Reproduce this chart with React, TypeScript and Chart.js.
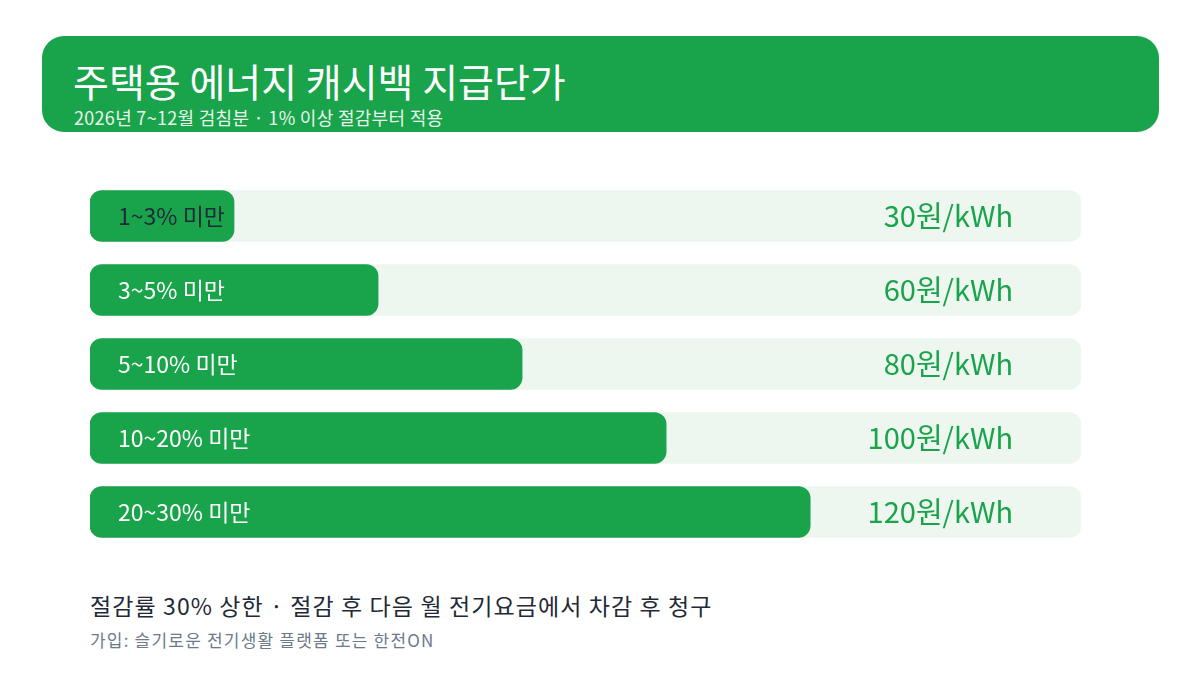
import React, { useEffect, useRef } from "react"
import { Chart, registerables } from "chart.js"

Chart.register(...registerables)

// tiers of saving rate, unit payment (원/kWh) and the step length of each bar
const tiers = ["1~3% 미만", "3~5% 미만", "5~10% 미만", "10~20% 미만", "20~30% 미만"]
const unitPrices = [30, 60, 80, 100, 120]
const barSteps = [1, 2, 3, 4, 5]
const stepMax = 6.88

const GREEN = "#19a34b"
const TRACK = "#edf7ef"
const FONT = "'Noto Sans CJK KR', 'Noto Sans', sans-serif"

const labelPlugin = {
    id: "tierLabels",
    afterDatasetsDraw(chart: any) {
        const ctx = chart.ctx
        const meta = chart.getDatasetMeta(1)
        const area = chart.chartArea
        ctx.save()
        ctx.textBaseline = "middle"
        meta.data.forEach((bar: any, i: number) => {
            // tier name inside the bar
            ctx.font = `23px ${FONT}`
            ctx.textAlign = "left"
            ctx.fillStyle = i === 0 ? "#1f2a37" : "#ffffff"
            ctx.fillText(tiers[i], area.left + 28, bar.y)

            // price at the right end of the track
            ctx.font = `29px ${FONT}`
            ctx.textAlign = "right"
            ctx.fillStyle = GREEN
            ctx.fillText(`${unitPrices[i]}원/kWh`, area.right - 68, bar.y)
        })
        ctx.restore()
    },
}

const CashbackBars: React.FC = () => {
    const chartRef = useRef<HTMLCanvasElement>(null)
    const chartInstance = useRef<Chart | null>(null)

    useEffect(() => {
        if (!chartRef.current) return
        if (chartInstance.current) chartInstance.current.destroy()
        const ctx = chartRef.current.getContext("2d")
        if (!ctx) return

        chartInstance.current = new Chart(ctx, {
            type: "bar",
            data: {
                labels: tiers,
                datasets: [
                    {
                        data: tiers.map(() => stepMax),
                        backgroundColor: TRACK,
                        borderRadius: 12,
                        borderSkipped: false,
                        barThickness: 51,
                        grouped: false,
                        order: 2,
                    },
                    {
                        data: barSteps,
                        backgroundColor: GREEN,
                        borderRadius: 12,
                        borderSkipped: false,
                        barThickness: 51,
                        grouped: false,
                        order: 1,
                    },
                ],
            },
            options: {
                indexAxis: "y",
                animation: false,
                responsive: false,
                layout: { padding: 0 },
                scales: {
                    x: { display: false, min: 0, max: stepMax },
                    y: { display: false },
                },
                plugins: {
                    legend: { display: false },
                    tooltip: { enabled: false },
                },
            },
            plugins: [labelPlugin],
        })

        return () => {
            if (chartInstance.current) {
                chartInstance.current.destroy()
                chartInstance.current = null
            }
        }
    }, [])

    return <canvas ref={chartRef} width={991} height={370} style={{ position: "absolute", left: 90, top: 178.5, width: 991, height: 370 }} />
}

export default function App() {
    return (
        <div style={{ position: "fixed", left: 0, top: 0, width: 1200, height: 675, background: "#ffffff", fontFamily: FONT, overflow: "hidden" }}>
            <div style={{ position: "absolute", left: 42, top: 36, width: 1117, height: 96, background: GREEN, borderRadius: 22 }}>
                <div style={{ position: "absolute", left: 31, top: 21, fontSize: 39, lineHeight: "46px", color: "#ffffff", whiteSpace: "nowrap" }}>
                    주택용 에너지 캐시백 지급단가
                </div>
                <div style={{ position: "absolute", left: 32, top: 70, fontSize: 18, lineHeight: "22px", letterSpacing: 0.3, color: "#e8f6ec", whiteSpace: "nowrap" }}>
                    2026년 7~12월 검침분 · 1% 이상 절감부터 적용
                </div>
            </div>
            <CashbackBars />
            <div style={{ position: "absolute", left: 90, top: 590, fontSize: 23, lineHeight: "30px", letterSpacing: 1.1, color: "#1f2937", whiteSpace: "nowrap" }}>
                절감률 30% 상한 · 절감 후 다음 월 전기요금에서 차감 후 청구
            </div>
            <div style={{ position: "absolute", left: 90, top: 629, fontSize: 17, lineHeight: "22px", letterSpacing: 1.2, color: "#6b7a8c", whiteSpace: "nowrap" }}>
                가입: 슬기로운 전기생활 플랫폼 또는 한전ON
            </div>
        </div>
    )
}
